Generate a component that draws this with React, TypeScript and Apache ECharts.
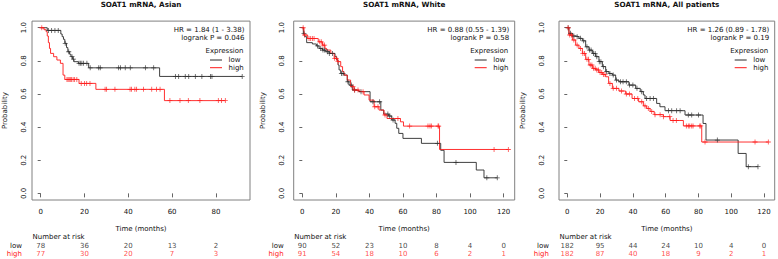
import React, { useEffect, useRef } from "react";
import * as echarts from "echarts";

const FONT = '"DejaVu Sans", sans-serif';
const BLACK = "#2a2a2a";
const RED = "#ff1a1a";
const TXT = "#111";

// ---------- Panel 1: Asian ----------
const asianTitle = "SOAT1 mRNA, Asian";
const asianHR = "HR = 1.84 (1 - 3.38)";
const asianP = "logrank P = 0.046";
const asianTicks = [0, 20, 40, 60, 80];
const asianLowSteps: [number, number][] = [
  [0, 1], [3, 0.984], [9.2, 0.962], [9.8, 0.946], [10.4, 0.93], [11, 0.906], [11.8, 0.88],
  [12.4, 0.855], [13.2, 0.84], [13.8, 0.825], [14.6, 0.81], [15.2, 0.795], [17.2, 0.785],
  [21.9, 0.758], [54.3, 0.706], [92, 0.706],
];
const asianLowCensor = [3.5, 5, 6.5, 8, 11.2, 12.8, 14.3, 15, 17.5, 18.1, 18.8, 19.6, 21.1, 22.6, 26.5, 27.2,
  35.6, 36.4, 38.6, 40.9, 47.8, 51.6, 61.5, 63, 66, 67.6, 70.6, 73.6, 77.5, 78.2, 92];
const asianHighSteps: [number, number][] = [
  [0, 1], [1.5, 0.988], [2.5, 0.976], [3, 0.95], [3.5, 0.91], [4, 0.875], [4.5, 0.845], [5.9, 0.825],
  [7.4, 0.805], [9, 0.785], [10.2, 0.714], [11, 0.688], [17.5, 0.664], [25.2, 0.628], [56.5, 0.56], [84.3, 0.56],
];
const asianHighCensor = [0.5, 12, 12.5, 13, 13.5, 14, 14.8, 15.5, 16.5, 18.5, 20, 21, 22.5, 29.4, 30.1, 33.9,
  40.8, 41.5, 43, 43.8, 46.9, 50.7, 52.9, 54.5, 59, 63.6, 67.4, 72.7, 81.1, 82.6, 84.3];
const asianRiskLow = [78, 36, 20, 13, 2];
const asianRiskHigh = [77, 30, 20, 7, 3];

// ---------- Panel 2: White ----------
const whiteTitle = "SOAT1 mRNA, White";
const whiteHR = "HR = 0.88 (0.55 - 1.39)";
const whiteP = "logrank P = 0.58";
const whiteTicks = [0, 20, 40, 60, 80, 100, 120];
const whiteLowSteps: [number, number][] = [
  [0, 1], [0.6, 0.966], [1.4, 0.946], [2.6, 0.91], [6, 0.902], [8.4, 0.89], [10, 0.875], [12, 0.865],
  [14, 0.855], [16, 0.845], [19.5, 0.825], [20.5, 0.805], [21.3, 0.775], [21.9, 0.745], [22.9, 0.724],
  [24.9, 0.714], [26.8, 0.674], [27.8, 0.654], [29.8, 0.624], [31.8, 0.62], [33.8, 0.614], [40.4, 0.553],
  [46.8, 0.503], [48.5, 0.479], [51.5, 0.467], [53.3, 0.443], [55.3, 0.423], [56.3, 0.393], [57.5, 0.362],
  [60, 0.332], [71, 0.302], [82.5, 0.26], [84.5, 0.187], [103.7, 0.141], [108.3, 0.094], [116.2, 0.094],
];
const whiteLowCensor = [1, 9, 11, 12.3, 13.3, 15.1, 16.1, 18, 23.3, 24.3, 27.2, 29.2, 31.2, 35, 42.1, 46.1,
  51, 52.1, 54.1, 80.5, 91.6, 110, 116.2];
const whiteHighSteps: [number, number][] = [
  [0, 1], [1, 0.956], [3.2, 0.935], [9.5, 0.915], [12, 0.895], [13.5, 0.875], [14.5, 0.865], [17, 0.845],
  [19, 0.815], [21, 0.795], [22.9, 0.765], [24, 0.735], [24.9, 0.714], [26.8, 0.684], [28.8, 0.644],
  [30.8, 0.624], [33.8, 0.614], [36.8, 0.594], [39.8, 0.563], [42.8, 0.523], [45.7, 0.503], [48.7, 0.473],
  [50.5, 0.452], [58.5, 0.432], [60.3, 0.406], [81.8, 0.265], [122.8, 0.265],
];
const whiteHighCensor = [0.5, 1.4, 4, 5, 6, 7, 10.4, 11.3, 12.3, 13.3, 19.3, 20.3, 21.3, 30.2, 31.2, 33.2,
  36.2, 43.2, 45.1, 49.3, 57, 64, 74.9, 76.1, 76.9, 80.9, 81.3, 114.3, 122.8];
const whiteRiskLow = [90, 52, 23, 10, 8, 4, 0];
const whiteRiskHigh = [91, 54, 18, 10, 6, 2, 1];

// ---------- Panel 3: All patients ----------
const allTitle = "SOAT1 mRNA, All patients";
const allHR = "HR = 1.26 (0.89 - 1.78)";
const allP = "logrank P = 0.19";
const allTicks = [0, 20, 40, 60, 80, 100, 120];
const allLowSteps: [number, number][] = [
  [0, 1], [1, 0.966], [3.1, 0.95], [5.1, 0.946], [7.1, 0.936], [9.2, 0.921], [11.2, 0.885], [13.2, 0.865],
  [15.3, 0.845], [17.3, 0.825], [19.3, 0.795], [21.4, 0.765], [23.4, 0.735], [25.4, 0.724], [27.5, 0.714],
  [29.5, 0.684], [31.5, 0.674], [37.6, 0.654], [41.7, 0.634], [44.5, 0.614], [46.4, 0.594], [47.4, 0.573],
  [54.5, 0.543], [56.5, 0.523], [59.6, 0.499], [71.8, 0.473], [82.8, 0.422], [84.6, 0.322], [104.2, 0.241],
  [109.1, 0.161], [116.3, 0.161],
];
const allLowCensor = [0.5, 2, 4, 6, 8, 10, 12, 13.5, 14.5, 16, 17, 18, 19.5, 20.5, 22, 24, 26, 28, 30, 32.5,
  34, 36, 38, 40, 42.5, 45.4, 48.4, 50.5, 52.5, 61.7, 63.7, 66.7, 68.8, 73.8, 75.9, 80, 91.5, 110.4, 116.3];
const allHighSteps: [number, number][] = [
  [0, 1], [1, 0.956], [3.1, 0.926], [5.1, 0.895], [7.1, 0.875], [9.2, 0.845], [11.2, 0.809], [13.2, 0.775],
  [15.3, 0.755], [17.3, 0.745], [19.3, 0.73], [21.4, 0.718], [23.4, 0.704], [25.2, 0.664], [27.5, 0.634],
  [31.5, 0.618], [35.6, 0.6], [39.5, 0.573], [43.5, 0.553], [46.4, 0.528], [48.4, 0.513], [50.5, 0.495],
  [53, 0.475], [58.6, 0.463], [62.7, 0.44], [70.8, 0.407], [82, 0.31], [122.6, 0.31],
];
const allHighCensor = [0.5, 1.5, 2.5, 4, 6, 8, 9.5, 10.5, 12, 13, 14, 15, 16, 17, 18, 19, 20, 21, 22, 23, 26,
  28, 30, 33, 36, 38, 41, 43, 45.4, 47.4, 49.4, 51.5, 53.5, 56.6, 58.6, 62.5, 64.5, 66.5, 72.6, 73.8, 74.7,
  75.9, 76.7, 80.8, 81.4, 84, 114.5, 122.6];
const allRiskLow = [182, 95, 44, 24, 10, 4, 0];
const allRiskHigh = [182, 87, 40, 18, 9, 2, 1];

const yTicks = [0, 0.2, 0.4, 0.6, 0.8, 1];

const panels = [
  {
    title: asianTitle, hr: asianHR, p: asianP, ticks: asianTicks,
    low: asianLowSteps, lowC: asianLowCensor, high: asianHighSteps, highC: asianHighCensor,
    riskLow: asianRiskLow, riskHigh: asianRiskHigh,
    left: 32, right: 250, xMin: -3.97, xMax: 95.57, yLabMargin: 5, probX: 5.3,
  },
  {
    title: whiteTitle, hr: whiteHR, p: whiteP, ticks: whiteTicks,
    low: whiteLowSteps, lowC: whiteLowCensor, high: whiteHighSteps, highC: whiteHighCensor,
    riskLow: whiteRiskLow, riskHigh: whiteRiskHigh,
    left: 293.7, right: 514.7, xMin: -5.13, xMax: 126.6, yLabMargin: 8.5, probX: 263,
  },
  {
    title: allTitle, hr: allHR, p: allP, ticks: allTicks,
    low: allLowSteps, lowC: allLowCensor, high: allHighSteps, highC: allHighCensor,
    riskLow: allRiskLow, riskHigh: allRiskHigh,
    left: 559, right: 774.7, xMin: -5.06, xMax: 126.5, yLabMargin: 14, probX: 523,
  },
];

const PLUS = "path://M4.2,0H5.8V4.2H10V5.8H5.8V10H4.2V5.8H0V4.2H4.2Z";

function survAt(steps: [number, number][], t: number) {
  let s = steps[0][1];
  for (const [ti, si] of steps) {
    if (ti <= t) s = si;
    else break;
  }
  return s;
}

const BOX_TOP = 21.1;
const BOX_BOTTOM = 200;

function buildOption() {
  const grid: any[] = [];
  const xAxis: any[] = [];
  const yAxis: any[] = [];
  const series: any[] = [];
  const graphic: any[] = [];
  const txt = (text: string, x: number, y: number, opts: any = {}) => ({
    type: "text",
    x, y,
    rotation: opts.rotation || 0,
    silent: true,
    style: {
      text,
      fontSize: opts.fontSize || 7,
      fontFamily: FONT,
      fontWeight: opts.fontWeight || "normal",
      fill: opts.fill || TXT,
      align: opts.align || "left",
      verticalAlign: "middle",
    },
  });

  panels.forEach((p, i) => {
    const w = p.right - p.left;
    grid.push({
      left: p.left, top: BOX_TOP, width: w, height: BOX_BOTTOM - BOX_TOP,
      show: true, borderColor: "#808080", borderWidth: 1, backgroundColor: "transparent",
    });
    xAxis.push({
      gridIndex: i, type: "value", min: p.xMin, max: p.xMax,
      axisLine: { show: false }, splitLine: { show: false },
      axisTick: { show: true, customValues: p.ticks, length: 4, lineStyle: { color: "#666", width: 1 } },
      axisLabel: { customValues: p.ticks, fontSize: 7, fontFamily: FONT, color: TXT, margin: 8 },
      name: "Time (months)", nameLocation: "middle", nameGap: 25,
      nameTextStyle: { fontSize: 7, fontFamily: FONT, color: TXT },
    });
    yAxis.push({
      gridIndex: i, type: "value", min: -0.04, max: 1.04,
      axisLine: { show: false }, splitLine: { show: false },
      axisTick: { show: true, customValues: yTicks, length: 3, lineStyle: { color: "#666", width: 1 } },
      axisLabel: {
        customValues: yTicks, rotate: 90, fontSize: 7, fontFamily: FONT, color: TXT,
        margin: p.yLabMargin, formatter: (v: number) => v.toFixed(1),
      },
    });
  });

  panels.forEach((p, i) => {
    const w = p.right - p.left;
    grid.push({ left: p.left, top: 241.5, width: w, height: 16.6, show: false });
    xAxis.push({ gridIndex: 3 + i, type: "value", min: p.xMin, max: p.xMax, show: false });
    yAxis.push({
      gridIndex: 3 + i, type: "category", data: ["high", "low"],
      axisLine: { show: false }, axisTick: { show: false }, splitLine: { show: false },
      axisLabel: {
        margin: 10, interval: 0, hideOverlap: false,
        formatter: (v: string) => (v === "low" ? "{l|low}" : "{h|high}"),
        rich: {
          l: { color: TXT, fontSize: 7, fontFamily: FONT },
          h: { color: RED, fontSize: 7, fontFamily: FONT },
        },
      },
    });
  });

  panels.forEach((p, i) => {
    const curves: [string, [number, number][], number[], string][] = [
      ["low", p.low, p.lowC, BLACK],
      ["high", p.high, p.highC, RED],
    ];
    curves.forEach(([name, steps, cens, color]) => {
      series.push({
        type: "line", name, xAxisIndex: i, yAxisIndex: i, data: steps, step: "end",
        showSymbol: false, symbol: "none", silent: true,
        lineStyle: { color, width: 0.9 }, z: 3,
      });
      series.push({
        type: "scatter", name, xAxisIndex: i, yAxisIndex: i,
        data: cens.map((t) => [t, survAt(steps, t)]),
        symbol: PLUS, symbolSize: 5, silent: true,
        itemStyle: { color }, z: 4,
      });
    });
    [["low", p.riskLow, TXT], ["high", p.riskHigh, RED]].forEach(([row, vals, color]: any) => {
      series.push({
        type: "scatter", xAxisIndex: 3 + i, yAxisIndex: 3 + i, silent: true,
        data: p.ticks.map((t, k) => [t, row, vals[k]]),
        symbolSize: 1, itemStyle: { color: "rgba(0,0,0,0)" },
        label: {
          show: true, position: "inside", formatter: (d: any) => String(d.value[2]),
          fontSize: 7, fontFamily: FONT, color,
        },
      });
    });

    const cx = (p.left + p.right) / 2;
    const R = p.right;
    graphic.push(txt(p.title, cx, 4.7, { align: "center", fontWeight: "bold", fontSize: 7.2 }));
    graphic.push(txt(p.hr, R - 5.5, 30, { align: "right" }));
    graphic.push(txt(p.p, R - 5.5, 37.8, { align: "right" }));
    graphic.push(txt("Expression", R - 25.5, 50.7, { align: "center" }));
    graphic.push({ type: "line", silent: true, shape: { x1: R - 40, y1: 60, x2: R - 28, y2: 60 }, style: { stroke: BLACK, lineWidth: 1 } });
    graphic.push({ type: "line", silent: true, shape: { x1: R - 40, y1: 67.7, x2: R - 28, y2: 67.7 }, style: { stroke: RED, lineWidth: 1 } });
    graphic.push(txt("low", R - 21.5, 60));
    graphic.push(txt("high", R - 21.5, 67.7));
    graphic.push(txt("Probability", p.probX, (BOX_TOP + BOX_BOTTOM) / 2, { align: "center", rotation: Math.PI / 2 }));
    graphic.push(txt("Number at risk", p.left + 0.5, 237));
  });

  return { animation: false, grid, xAxis, yAxis, series, graphic };
}

export default function App() {
  const ref = useRef<HTMLDivElement>(null);
  useEffect(() => {
    if (!ref.current) return;
    const chart = echarts.init(ref.current, undefined, { renderer: "svg" });
    chart.setOption(buildOption() as any);
    return () => chart.dispose();
  }, []);
  return (
    <div
      ref={ref}
      style={{ position: "absolute", left: 0, top: 0, width: 778, height: 259, background: "#fff" }}
    />
  );
}
